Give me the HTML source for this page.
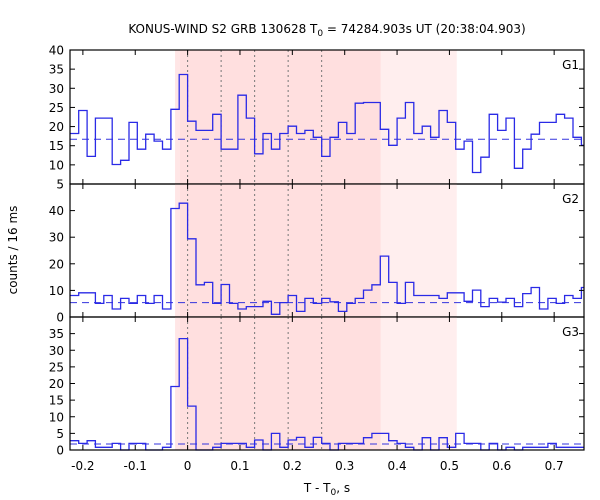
<!DOCTYPE html>
<html><head><meta charset="utf-8"><style>
html,body{margin:0;padding:0;background:#fff;}
svg{display:block;font-family:"DejaVu Sans","Liberation Sans",sans-serif;}
</style></head><body>
<svg id="chart" width="600" height="500" viewBox="0 0 600 500" xmlns="http://www.w3.org/2000/svg">
<text x="327" y="33" font-size="12" text-anchor="middle">KONUS-WIND S2 GRB 130628 T<tspan font-size="9" dy="3">0</tspan><tspan dy="-3"> = 74284.903s UT (20:38:04.903)</tspan></text>
<text transform="translate(17,250) rotate(-90)" font-size="12" text-anchor="middle">counts / 16 ms</text>
<text x="327" y="492" font-size="12" text-anchor="middle">T - T<tspan font-size="9" dy="3">0</tspan><tspan dy="-3">, s</tspan></text>
<g id="plots"></g>
</svg>
<script>
const binStart = -0.224;
const binWidth = 0.016;
const g1Counts = [18.2,24.2,12.2,22.2,22.2,10.1,11.2,21.1,14.1,18.0,16.2,14.1,24.5,33.6,21.4,19.0,19.0,23.2,14.1,14.1,28.2,22.2,12.9,18.2,14.1,18.2,20.1,18.2,19.0,17.2,12.2,17.2,21.1,18.2,26.1,26.3,26.3,19.3,15.1,22.2,26.3,18.2,20.1,17.2,24.2,21.1,14.1,16.2,8.0,12.0,23.2,19.0,22.2,9.1,14.1,18.0,21.1,21.1,23.2,22.2,17.2,15.1];
const g2Counts = [8.1,9.1,9.1,5.1,8.1,3.0,7.0,5.1,8.1,5.1,8.1,3.0,40.8,42.8,29.4,12.1,13.0,5.1,12.2,5.1,3.0,3.9,3.9,5.9,1.0,5.4,8.1,2.1,7.0,5.1,7.0,5.7,2.1,5.1,7.0,10.1,12.1,22.9,13.0,5.1,13.0,8.1,8.1,8.1,7.0,9.1,9.1,5.9,10.1,3.9,7.0,5.6,7.0,3.9,8.8,11.1,3.0,7.0,5.1,8.1,7.0,11.1];
const g3Counts = [2.8,2,2.8,0.8,0.8,2,0,2,2,0,0,0.8,19.1,33.5,13.2,0,0,0.8,2,2,2,0.8,3,0,5,0.8,3,3.8,0.8,3.8,2,0,2,2,2,3.7,5,5,2.8,2,0.8,0,3.7,0,3.7,0.8,5,2,2,0,2,0,0.8,0,0.8,0.8,0.8,2,0.8,0.8,0.8,0.8];
const backgrounds = [16.7, 5.4, 1.8];
const panelNames = ["G1","G2","G3"];
const yRanges = [[5,40],[0,50],[0,40]];
const yTickLabels = [[5,10,15,20,25,30,35,40],[0,10,20,30,40],[0,5,10,15,20,25,30,35]];
const xTickLabels = [-0.2,-0.1,0,0.1,0.2,0.3,0.4,0.5,0.6,0.7];
const dottedTimes = [0,0.064,0.128,0.192,0.256];
const shadeDark = [-0.0147, 0.369];
const shadeEdge = [-0.024, -0.0147];
const shadeLight = [0.369, 0.514];

const NS="http://www.w3.org/2000/svg";
const L=70, R=584, xmin=-0.2246, xmax=0.757;
const panels=[[50,184],[184,317],[317,450]];
const X=t=>L+(t-xmin)/(xmax-xmin)*(R-L);
const root=document.getElementById('plots');
function mk(tag,attrs,parent){const e=document.createElementNS(NS,tag);for(const k in attrs)e.setAttribute(k,attrs[k]);(parent||root).appendChild(e);return e;}
const series=[g1Counts,g2Counts,g3Counts];
panels.forEach((p,pi)=>{
  const [top,bot]=p;const [y0,y1]=yRanges[pi];
  const Y=v=>bot-(v-y0)/(y1-y0)*(bot-top);
  const g=mk('g',{});
  
  
  [[shadeEdge,'#ffe6e6'],[shadeDark,'#ffdfdf'],[shadeLight,'#ffeeee']].forEach(([s,c],si)=>{
    const r=mk('rect',{x:X(s[0]),y:top,width:X(s[1])-X(s[0]),height:bot-top,fill:c},g);
    
    
  });
  dottedTimes.forEach(t=>{
    const l=mk('line',{x1:X(t),x2:X(t),y1:top,y2:bot,stroke:'#777','stroke-width':1,'stroke-dasharray':'2,3'},g);
    
    
  });
  // background
  const bl=mk('line',{x1:L,x2:R,y1:Y(backgrounds[pi]),y2:Y(backgrounds[pi]),stroke:'#3333dd','stroke-width':1,'stroke-dasharray':'7,5'},g);
  
  
  // histogram
  const d=series[pi];let path='';
  d.forEach((v,i)=>{
    let t0=Math.max(binStart+i*binWidth,xmin), t1=Math.min(binStart+(i+1)*binWidth,xmax);
    const yv=Math.max(top,Math.min(bot,Y(v)));
    path+=(i===0?'M':'L')+X(t0).toFixed(1)+','+yv.toFixed(1)+'L'+X(t1).toFixed(1)+','+yv.toFixed(1);
  });
  const h=mk('path',{d:path,fill:'none',stroke:'#2a2ae6','stroke-width':1.3},g);
  
  
  // frame
  const f=mk('rect',{x:L,y:top,width:R-L,height:bot-top,fill:'none',stroke:'#000','stroke-width':1.2},g);
  
  
  // y ticks
  yTickLabels[pi].forEach(v=>{
    const y=Y(v);
    mk('line',{x1:L,x2:L+5,y1:y,y2:y,stroke:'#000'},g);
    mk('line',{x1:R,x2:R-5,y1:y,y2:y,stroke:'#000'},g);
    const tx=mk('text',{x:L-6,y:y+4.5,'font-size':12,'text-anchor':'end'},g);
    
    
    tx.textContent=v;
  });
  // x ticks
  xTickLabels.forEach(t=>{
    const x=X(t);
    mk('line',{x1:x,x2:x,y1:top,y2:top+5,stroke:'#000'},g);
    mk('line',{x1:x,x2:x,y1:bot,y2:bot-5,stroke:'#000'},g);
  });
  const lab=mk('text',{x:R-5,y:top+19,'font-size':12,'text-anchor':'end'},g);
  
  
  lab.textContent=panelNames[pi];
});
xTickLabels.forEach(t=>{
  const tx=mk('text',{x:X(t),y:470,'font-size':12,'text-anchor':'middle'});
  
  
  tx.textContent=(Math.abs(t)<1e-9?'0':t.toFixed(1));
});
</script>
</body></html>
